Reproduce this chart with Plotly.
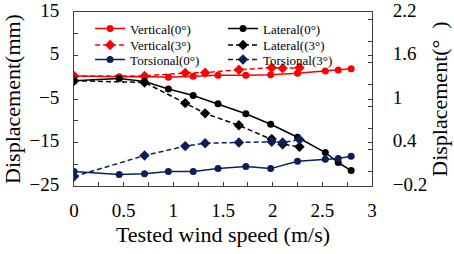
import plotly.graph_objects as go

# wind speeds (m/s)
speed_0 = [0, 0.455, 0.71, 0.95, 1.2, 1.45, 1.73, 1.98, 2.25, 2.53, 2.66, 2.79]
speed_3 = [0, 0.71, 1.12, 1.32, 1.66, 1.99, 2.1, 2.27]

# displacements (mm) - left axis
vertical_0 = [0.3, 0.1, 0.2, 0.0, 0.25, 0.45, 0.47, 0.6, 0.92, 1.44, 1.67, 1.96]
vertical_3 = [0.3, 0.3, 1.0, 1.06, 1.73, 2.19, 2.05, 2.19]
lateral_0 = [-0.8, -0.3, -1.0, -2.7, -4.2, -6.1, -8.4, -10.8, -13.8, -17.3, -19.6, -21.45]
lateral_3 = [-0.8, -1.2, -5.95, -8.3, -11.05, -14.2, -15.4, -16.0]

# rotations (deg) - right axis
torsional_0 = [0.0, -0.04, -0.03, 0.0, 0.0, 0.04, 0.07, 0.04, 0.14, 0.17, 0.18, 0.21]
torsional_3 = [-0.07, 0.22, 0.35, 0.39, 0.40, 0.41, 0.40, 0.44]

RED = "#FF0000"
BLACK = "#000000"
NAVY = "#0A1F5C"
FONT = "Liberation Serif, Times New Roman, serif"

fig = go.Figure()

def add(x, y, name, color, dash, symbol, yaxis, legend):
    fig.add_trace(go.Scatter(
        x=x, y=y, name=name, mode="lines+markers", yaxis=yaxis, legend=legend,
        line=dict(color=color, width=1.5, dash=dash),
        marker=dict(color=color, symbol=symbol, size=8 if symbol == "diamond" else 7),
    ))

add(speed_0, vertical_0, "Vertical(0°)", RED, "solid", "circle", "y", "legend")
add(speed_3, vertical_3, "Vertical(3°)", RED, "5px,3px", "diamond", "y", "legend2")
add(speed_0, torsional_0, "Torsional(0°)", NAVY, "solid", "circle", "y2", "legend3")
add(speed_0, lateral_0, "Lateral(0°)", BLACK, "solid", "circle", "y", "legend4")
add(speed_3, lateral_3, "Lateral((3°)", BLACK, "5px,3px", "diamond", "y", "legend5")
add(speed_3, torsional_3, "Torsional(3°)", NAVY, "5px,3px", "diamond", "y2", "legend6")

axis_common = dict(
    showline=True, linecolor="#404040", linewidth=1, automargin=False,
    ticks="inside", ticklen=4, tickcolor="#404040", showgrid=False, zeroline=False,
    tickfont=dict(family=FONT, size=19, color="black"), ticklabeloverflow="allow",
)

def leg(x, y):
    return dict(
        x=x, y=y, xanchor="left", yanchor="middle", bgcolor="rgba(0,0,0,0)",
        borderwidth=0, font=dict(family=FONT, size=13, color="black"), itemwidth=30,
    )

fig.update_layout(
    template="none",
    width=454, height=254,
    margin=dict(l=74, r=82, t=12, b=68, autoexpand=False),
    paper_bgcolor="white", plot_bgcolor="white",
    font=dict(family=FONT, color="black"),
    showlegend=True,
    xaxis=dict(
        range=[0, 3], tick0=0, dtick=0.5, mirror=True,
        minor=dict(dtick=0.25, ticks="inside", ticklen=4, tickcolor="#404040"),
        title=dict(text="Tested wind speed (m/s)", font=dict(family=FONT, size=22), standoff=6),
        ticklabelstandoff=7,
        **axis_common,
    ),
    yaxis=dict(
        range=[-25, 15], tick0=-25, dtick=10,
        minor=dict(dtick=5, ticks="inside", ticklen=4, tickcolor="#404040"),
        title=dict(text="Displacement(mm)", font=dict(family=FONT, size=22), standoff=4),
        ticklabelstandoff=10, ticklabelshift=-2,
        **axis_common,
    ),
    yaxis2=dict(
        range=[-0.2, 2.2], tick0=-0.2, dtick=0.6, overlaying="y", side="right",
        minor=dict(dtick=0.3, ticks="inside", ticklen=4, tickcolor="#404040"),
        title=dict(text="Displacement(°  )", font=dict(family=FONT, size=22), standoff=2),
        ticklabelstandoff=16, ticklabelshift=-2,
        **axis_common,
    ),
    legend=leg(0.054, 0.905),
    legend2=leg(0.054, 0.810),
    legend3=leg(0.054, 0.727),
    legend4=leg(0.50, 0.905),
    legend5=leg(0.50, 0.810),
    legend6=leg(0.50, 0.727),
)

fig.write_html("out.html", config={"displayModeBar": False},
               post_script="document.body.style.margin='0';")
